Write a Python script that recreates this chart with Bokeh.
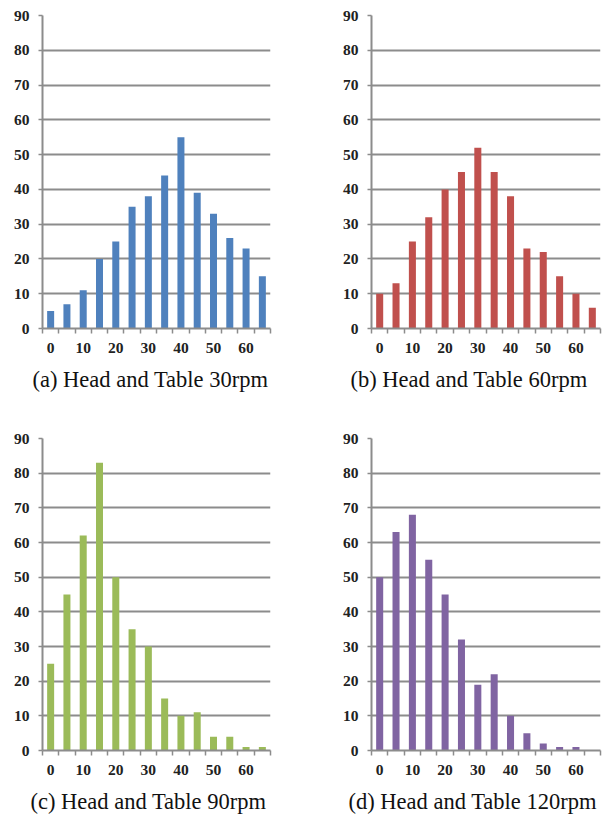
from bokeh.plotting import figure
from bokeh.layouts import gridplot
from bokeh.models import FixedTicker, ColumnDataSource, Range1d, Title
from bokeh.embed import file_html
from bokeh.resources import INLINE

categories = ["0", "5", "10", "15", "20", "25", "30", "35", "40", "45", "50", "55", "60", "65"]
rpm30 = [5, 7, 11, 20, 25, 35, 38, 44, 55, 39, 33, 26, 23, 15]
rpm60 = [10, 13, 25, 32, 40, 45, 52, 45, 38, 23, 22, 15, 10, 6]
rpm90 = [25, 45, 62, 83, 50, 35, 30, 15, 10, 11, 4, 4, 1, 1]
rpm120 = [50, 63, 68, 55, 45, 32, 19, 22, 10, 5, 2, 1, 1, 0]
y_ticks = [0, 10, 20, 30, 40, 50, 60, 70, 80, 90]
captions = ["(a) Head and Table 30rpm", "(b) Head and Table 60rpm",
            "(c) Head and Table 90rpm", "(d) Head and Table 120rpm"]
colors = ["#4F81BD", "#C0504D", "#9BBB59", "#8064A2"]

AXIS_GRAY = "#8c8c8c"
SERIF = "Liberation Serif"


def panel(values, color, caption, cap_offset, cap_standoff, width, height, bl, br, bt, bb):
    n = len(categories)
    p = figure(width=width, height=height, output_backend="svg", toolbar_location=None,
               x_range=Range1d(0, n), y_range=Range1d(0, 90),
               min_border_left=bl, min_border_right=br, min_border_top=bt, min_border_bottom=bb)
    p.outline_line_color = None
    p.background_fill_color = "white"
    p.border_fill_color = "white"
    src = ColumnDataSource(dict(x=[i + 0.5 for i in range(n)], top=values))
    p.vbar(x="x", top="top", bottom=0, width=0.43, source=src, fill_color=color, line_color=None)

    # x axis: labels at every other category centre, tick marks on category boundaries
    label_idx = list(range(0, n, 2))
    p.xaxis.ticker = FixedTicker(ticks=[i + 0.5 for i in label_idx], minor_ticks=list(range(n + 1)))
    p.xaxis.major_label_overrides = {i + 0.5: categories[i] for i in label_idx}
    p.xaxis.major_tick_line_color = None
    p.xaxis.minor_tick_line_color = AXIS_GRAY
    p.xaxis.minor_tick_line_width = 1.5
    p.xaxis.minor_tick_out = 5
    p.xaxis.minor_tick_in = 0
    p.xaxis.major_label_standoff = 8
    p.xaxis.axis_line_color = AXIS_GRAY
    p.xaxis.axis_line_width = 2
    p.xaxis.major_label_text_font = SERIF
    p.xaxis.major_label_text_font_style = "bold"
    p.xaxis.major_label_text_font_size = "15.5px"
    p.xaxis.major_label_text_color = "#222222"

    p.add_layout(Title(text=caption, align="left", offset=cap_offset, standoff=cap_standoff,
                       text_font=SERIF, text_font_style="normal", text_font_size="22.5px",
                       text_color="#111111"), "below")

    p.yaxis.ticker = FixedTicker(ticks=y_ticks)
    p.yaxis.minor_tick_line_color = None
    p.yaxis.major_tick_line_color = AXIS_GRAY
    p.yaxis.major_tick_line_width = 1.5
    p.yaxis.major_tick_out = 4
    p.yaxis.major_tick_in = 0
    p.yaxis.major_label_standoff = 9
    p.yaxis.axis_line_color = AXIS_GRAY
    p.yaxis.axis_line_width = 2
    p.yaxis.major_label_text_font = SERIF
    p.yaxis.major_label_text_font_style = "bold"
    p.yaxis.major_label_text_font_size = "15.5px"
    p.yaxis.major_label_text_color = "#222222"

    p.xgrid.grid_line_color = None
    p.ygrid.grid_line_color = AXIS_GRAY
    p.ygrid.grid_line_width = 1.8
    p.ygrid.ticker = FixedTicker(ticks=y_ticks[1:])
    return p


pa = panel(rpm30, colors[0], captions[0], -10, 19, 303, 410, 42, 33, 15, 82)
pb = panel(rpm60, colors[1], captions[1], -21, 19, 303, 410, 68, 6, 15, 82)
pc = panel(rpm90, colors[2], captions[2], -12, 19, 303, 415, 42, 33, 27, 75)
pd = panel(rpm120, colors[3], captions[3], -23, 19, 303, 415, 68, 6, 28, 74)

grid = gridplot([[pa, pb], [pc, pd]], toolbar_location=None)

open("out.html", "w").write(file_html(grid, INLINE))
